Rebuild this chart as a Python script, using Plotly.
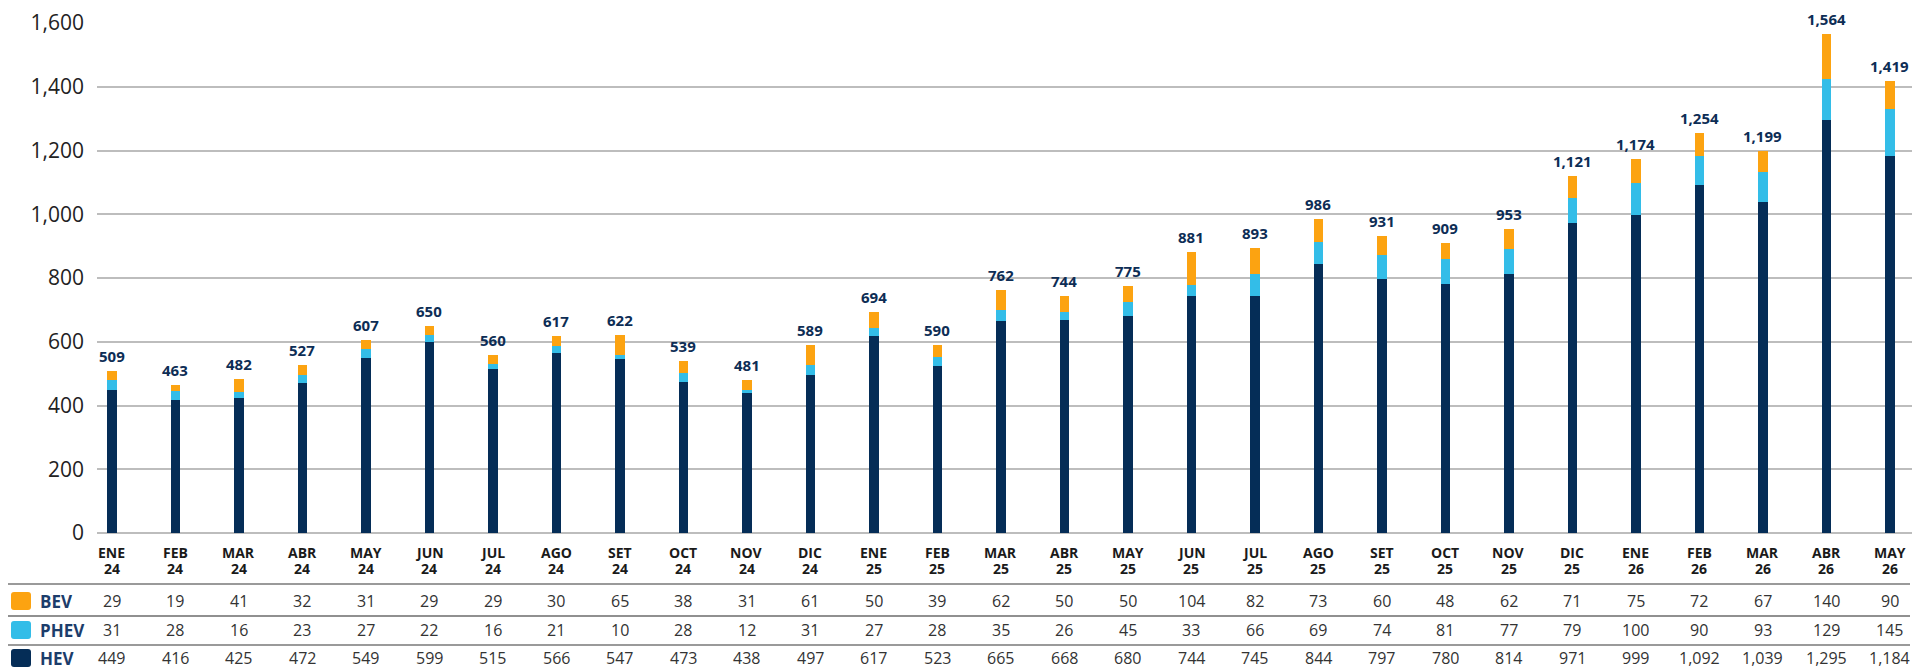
import plotly.graph_objects as go

# Monthly sales by powertrain type
months = ["ENE", "FEB", "MAR", "ABR", "MAY", "JUN", "JUL", "AGO", "SET", "OCT", "NOV", "DIC",
          "ENE", "FEB", "MAR", "ABR", "MAY", "JUN", "JUL", "AGO", "SET", "OCT", "NOV", "DIC",
          "ENE", "FEB", "MAR", "ABR", "MAY"]
years = ["24"] * 12 + ["25"] * 12 + ["26"] * 5

bev = [29, 19, 41, 32, 31, 29, 29, 30, 65, 38, 31, 61, 50, 39, 62, 50, 50, 104, 82, 73,
       60, 48, 62, 71, 75, 72, 67, 140, 90]
phev = [31, 28, 16, 23, 27, 22, 16, 21, 10, 28, 12, 31, 27, 28, 35, 26, 45, 33, 66, 69,
        74, 81, 77, 79, 100, 90, 93, 129, 145]
hev = [449, 416, 425, 472, 549, 599, 515, 566, 547, 473, 438, 497, 617, 523, 665, 668, 680,
       744, 745, 844, 797, 780, 814, 971, 999, 1092, 1039, 1295, 1184]

series = [("HEV", hev, "#052D57"), ("PHEV", phev, "#33BDE8"), ("BEV", bev, "#FCA311")]

FONT = "Open Sans"
W, H = 1912, 669
ML, MT, MB = 97, 23, 136
PW, PH = W - ML, H - MT - MB

def px_x(px):
    return (px - ML) / PW

def px_y(py):
    return (H - MB - py) / PH

n = len(months)
xs = list(range(n))
totals = [a + b + c for a, b, c in zip(hev, phev, bev)]

fig = go.Figure()
for name, vals, color in series:
    fig.add_trace(go.Bar(x=xs, y=vals, name=name, marker=dict(color=color, line_width=0),
                         width=0.15, hoverinfo="y+name"))

annotations = []
shapes = []

# stacked totals above each bar
for i in xs:
    annotations.append(dict(x=i, y=totals[i], xref="x", yref="y", text=f"<b>{totals[i]:,}</b>",
                            showarrow=False, yanchor="bottom", yshift=3,
                            font=dict(family=FONT, size=15, color="#0D2D55")))

# month / year labels under the bars
for i in xs:
    annotations.append(dict(x=i, y=px_y(552), xref="x", yref="paper", text=f"<b>{months[i]}</b>",
                            showarrow=False, yanchor="middle",
                            font=dict(family=FONT, size=14, color="#1A1A1A")))
    annotations.append(dict(x=i, y=px_y(568), xref="x", yref="paper", text=f"<b>{years[i]}</b>",
                            showarrow=False, yanchor="middle",
                            font=dict(family=FONT, size=14, color="#1A1A1A")))

# data table rows
rows = [("BEV", bev, "#FCA311", 601), ("PHEV", phev, "#33BDE8", 630), ("HEV", hev, "#052D57", 658)]
for name, vals, color, ry in rows:
    for i in xs:
        annotations.append(dict(x=i, y=px_y(ry), xref="x", yref="paper", text=f"{vals[i]:,}",
                                showarrow=False, yanchor="middle",
                                font=dict(family=FONT, size=16, color="#333333")))
    annotations.append(dict(x=px_x(38), y=px_y(ry), xref="paper", yref="paper", text=f"<b>{name}</b>",
                            showarrow=False, xanchor="left", yanchor="middle",
                            font=dict(family=FONT, size=17, color="#1C3D6B")))
    # rounded legend swatch
    x0, x1 = px_x(11), px_x(31)
    y0, y1 = px_y(ry + 9), px_y(ry - 9)
    rx, ry_ = 3 / PW, 3 / PH
    path = (f"M {x0+rx},{y0} L {x1-rx},{y0} Q {x1},{y0} {x1},{y0+ry_} "
            f"L {x1},{y1-ry_} Q {x1},{y1} {x1-rx},{y1} L {x0+rx},{y1} "
            f"Q {x0},{y1} {x0},{y1-ry_} L {x0},{y0+ry_} Q {x0},{y0} {x0+rx},{y0} Z")
    shapes.append(dict(type="path", path=path, xref="paper", yref="paper",
                       fillcolor=color, line_width=0, layer="above"))

# table rules
for ly, col, lw in [(584, "#9A9A9A", 2), (616, "#222222", 1.2), (645, "#9A9A9A", 2)]:
    shapes.append(dict(type="line", xref="paper", yref="paper", x0=px_x(8), x1=px_x(1910),
                       y0=px_y(ly), y1=px_y(ly), line=dict(color=col, width=lw)))

fig.update_layout(
    width=W, height=H,
    margin=dict(l=ML, r=0, t=MT, b=MB, pad=0),
    barmode="stack",
    bargap=0,
    plot_bgcolor="white", paper_bgcolor="white",
    showlegend=False,
    annotations=annotations,
    shapes=shapes,
    xaxis=dict(range=[-0.236, 28.35], showticklabels=False, showgrid=False, zeroline=False,
               ticks="", fixedrange=True),
    yaxis=dict(range=[0, 1600], tickvals=[0, 200, 400, 600, 800, 1000, 1200, 1400, 1600],
               tickformat=",", showgrid=True, gridcolor="#BDBDBD", gridwidth=1.5,
               zeroline=True, zerolinecolor="#BDBDBD", zerolinewidth=1.5,
               ticks="", ticklabelstandoff=12,
               tickfont=dict(family=FONT, size=21, color="#222222"), fixedrange=True),
)

fig.write_html("out.html")
